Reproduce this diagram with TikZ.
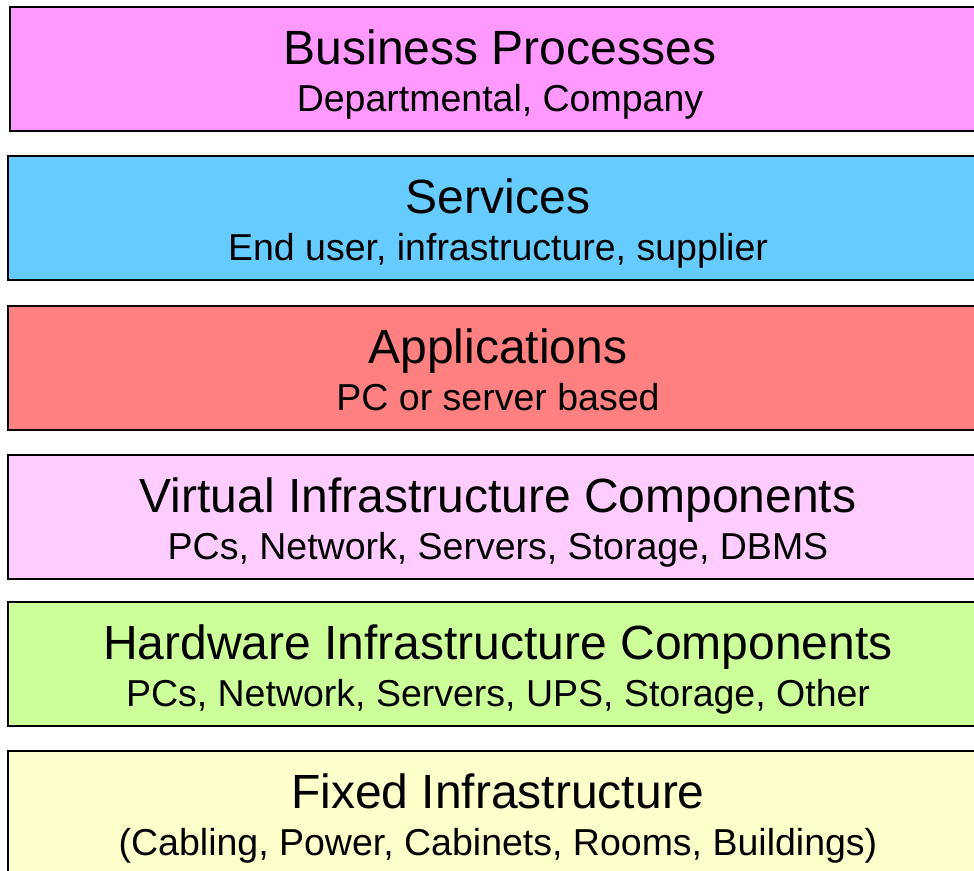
\documentclass[tikz,border=0pt]{standalone}
\usepackage{fontspec}
\setmainfont{Liberation Sans}
\definecolor{c1}{HTML}{FF99FF}
\definecolor{c2}{HTML}{66CCFF}
\definecolor{c3}{HTML}{FF8080}
\definecolor{c4}{HTML}{FFCCFF}
\definecolor{c5}{HTML}{CCFF99}
\definecolor{c6}{HTML}{FFFFCC}
\tikzset{
  layer/.style={draw=black, line width=2pt, rectangle, anchor=north west,
    minimum width=982pt, minimum height=124pt, inner sep=0pt, outer sep=0pt},
  ttl/.style={anchor=base, inner sep=0pt, font=\fontsize{48}{56}\selectfont},
  sub/.style={anchor=base, inner sep=0pt, font=\fontsize{37.5}{44}\selectfont}
}
\begin{document}
\begin{tikzpicture}[x=1pt,y=1pt]
\useasboundingbox (0,0) rectangle (974,-870);
\clip (0,0) rectangle (974,-870);
\node[layer, fill=c1, minimum width=980pt] (b1) at (10,-7) {};
\node[layer, fill=c2] (b2) at (8,-156) {};
\node[layer, fill=c3] (b3) at (8,-306) {};
\node[layer, fill=c4] (b4) at (8,-455) {};
\node[layer, fill=c5] (b5) at (8,-602) {};
\node[layer, fill=c6] (b6) at (8,-751) {};
\node[ttl] (t1) at (500,-64) {Business Processes};
\node[sub] (s1) at (500,-111) {Departmental, Company};
\node[ttl] (t2) at (498,-213) {Services};
\node[sub] (s2) at (498,-260) {End user, infrastructure, supplier};
\node[ttl] (t3) at (498,-363) {Applications};
\node[sub] (s3) at (498,-410) {PC or server based};
\node[ttl] (t4) at (498,-512) {Virtual Infrastructure Components};
\node[sub] (s4) at (498,-559) {PCs, Network, Servers, Storage, DBMS};
\node[ttl] (t5) at (498,-659) {Hardware Infrastructure Components};
\node[sub] (s5) at (498,-706) {PCs, Network, Servers, UPS, Storage, Other};
\node[ttl] (t6) at (498,-808) {Fixed Infrastructure};
\node[sub] (s6) at (498,-855) {(Cabling, Power, Cabinets, Rooms, Buildings)};
\end{tikzpicture}
\end{document}
